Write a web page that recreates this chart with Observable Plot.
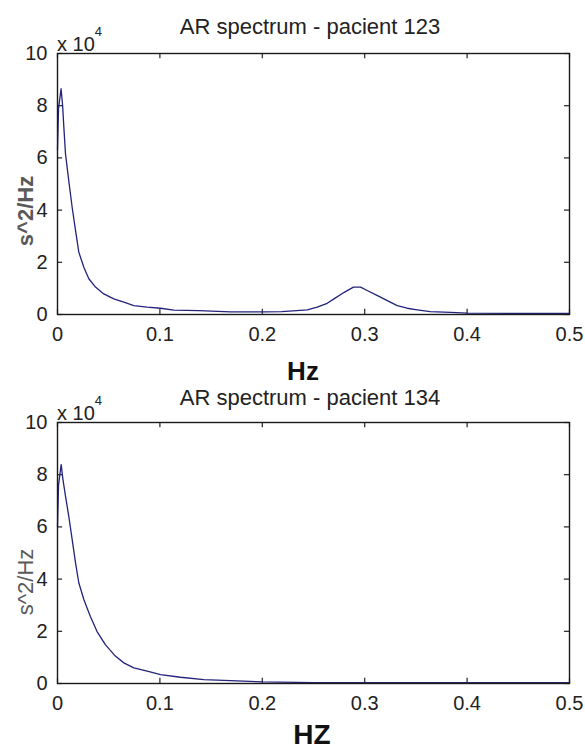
<!DOCTYPE html>
<html>
<head>
<meta charset="utf-8">
<script src="https://cdn.jsdelivr.net/npm/d3@7"></script>
<script src="https://cdn.jsdelivr.net/npm/@observablehq/plot@0.6"></script>
<style>
  body { margin: 0; background: #fff; }
  #wrap { position: relative; width: 585px; height: 752px; font-family: "Liberation Sans", Arial, sans-serif; color: #222; overflow: hidden; }
  .panel { position: absolute; left: 0; width: 585px; height: 369px; }
  .txt { position: absolute; white-space: nowrap; line-height: 0.85; }
  .title { font-size: 22px; transform: translateX(-50%); }
  .mult { font-size: 20px; line-height: 1; }
  .mult span { font-size: 13px; vertical-align: 15px; }
  .xlab { font-weight: bold; transform: translateX(-50%); color: #111; }
  .ylab { font-size: 22px; line-height: 1; color: #5a5a5a; transform: translate(-50%, -50%) rotate(-90deg); }
</style>
</head>
<body>
<div id="wrap"></div>
<script>
// ---- data (PSD values in units of 10^4 s^2/Hz) ----
const titles = ["AR spectrum - pacient 123", "AR spectrum - pacient 134"];
const xLabels = ["Hz", "HZ"];
const yLabel = "s^2/Hz";
const multiplier = ["x 10", "4"];

const freq123 = [0, 0.001, 0.0035, 0.005, 0.0062, 0.0078, 0.011, 0.0143, 0.0176, 0.0208, 0.0257, 0.0306, 0.0371, 0.0452, 0.055, 0.0648, 0.0745, 0.0876, 0.1006, 0.1136, 0.138, 0.169, 0.2, 0.219, 0.244, 0.2536, 0.2634, 0.27, 0.28, 0.289, 0.296, 0.3024, 0.312, 0.3216, 0.3317, 0.3415, 0.3513, 0.364, 0.384, 0.4, 0.45, 0.5];
const psd123  = [6.3, 7.9, 8.65, 8.0, 7.18, 6.16, 5.13, 4.11, 3.22, 2.39, 1.81, 1.37, 1.05, 0.79, 0.6, 0.47, 0.34, 0.28, 0.24, 0.17, 0.15, 0.1, 0.1, 0.11, 0.18, 0.28, 0.43, 0.6, 0.85, 1.05, 1.05, 0.92, 0.73, 0.54, 0.34, 0.24, 0.18, 0.11, 0.08, 0.05, 0.04, 0.04];

const freq134 = [0, 0.001, 0.0036, 0.0052, 0.0078, 0.011, 0.0143, 0.0176, 0.0208, 0.0257, 0.032, 0.0385, 0.0467, 0.0565, 0.0648, 0.0745, 0.0876, 0.1006, 0.12, 0.143, 0.169, 0.2, 0.25, 0.3, 0.4, 0.5];
const psd134  = [6.0, 7.6, 8.39, 7.85, 7.18, 6.41, 5.52, 4.62, 3.86, 3.22, 2.58, 2.0, 1.49, 1.05, 0.79, 0.6, 0.47, 0.34, 0.24, 0.15, 0.11, 0.06, 0.03, 0.03, 0.03, 0.03];

const xTicks = [0, 0.1, 0.2, 0.3, 0.4, 0.5];
const yTicks = [0, 2, 4, 6, 8, 10];

const lineColor = "#23237c";

function panel(freq, psd) {
  const data = freq.map((f, i) => ({f, p: psd[i]}));
  return Plot.plot({
    width: 585,
    height: 369,
    marginLeft: 57,
    marginRight: 16,
    marginTop: 53,
    marginBottom: 55,
    style: {fontFamily: "Liberation Sans, Arial, sans-serif", fontSize: "20px", color: "#222", background: "transparent", overflow: "visible"},
    x: {domain: [0, 0.5]},
    y: {domain: [0, 10]},
    marks: [
      Plot.axisX(xTicks, {tickSize: 0, tickPadding: 12, label: null, fontSize: 20, tickFormat: d => String(d)}),
      Plot.axisY(yTicks, {tickSize: 0, tickPadding: 10, label: null, fontSize: 20, tickFormat: d => String(d)}),
      Plot.ruleX(xTicks, {x: d => d, y1: 0, y2: 0.2, stroke: "#222", strokeWidth: 1.2}),
      Plot.ruleX(xTicks, {x: d => d, y1: 10, y2: 9.8, stroke: "#222", strokeWidth: 1.2}),
      Plot.ruleY(yTicks, {y: d => d, x1: 0, x2: 0.005, stroke: "#222", strokeWidth: 1.2}),
      Plot.ruleY(yTicks, {y: d => d, x1: 0.5, x2: 0.495, stroke: "#222", strokeWidth: 1.2}),
      Plot.line(data, {x: "f", y: "p", stroke: lineColor, strokeWidth: 1.3}),
      Plot.frame({stroke: "#1a1a1a", strokeWidth: 1.4})
    ]
  });
}

const wrap = document.getElementById("wrap");
const series = [[freq123, psd123], [freq134, psd134]];
const offsets = [0, 369];
const titleBase = [35, 406];
const xLabelPos = [{x: 303, base: 380, size: 26}, {x: 312, base: 745, size: 28}];
const yLabelPos = [{y: 211, weight: "bold"}, {y: 582, weight: "normal"}];
const asc = 0.7715; // baseline position inside a line-height 0.85 box (Liberation Sans)

series.forEach(([f, p], i) => {
  const div = document.createElement("div");
  div.className = "panel";
  div.style.top = offsets[i] + "px";
  div.appendChild(panel(f, p));
  wrap.appendChild(div);

  const t = document.createElement("div");
  t.className = "txt title";
  t.style.left = "310px";
  t.style.top = (titleBase[i] - asc * 22) + "px";
  t.textContent = titles[i];
  wrap.appendChild(t);

  const m = document.createElement("div");
  m.className = "txt mult";
  m.style.left = "57px";
  m.style.top = (offsets[i] + 25) + "px";
  m.innerHTML = multiplier[0] + "<span>" + multiplier[1] + "</span>";
  wrap.appendChild(m);

  const xl = document.createElement("div");
  xl.className = "txt xlab";
  xl.style.left = xLabelPos[i].x + "px";
  xl.style.top = (xLabelPos[i].base - asc * xLabelPos[i].size) + "px";
  xl.style.fontSize = xLabelPos[i].size + "px";
  xl.textContent = xLabels[i];
  wrap.appendChild(xl);

  const yl = document.createElement("div");
  yl.className = "txt ylab";
  yl.style.left = "26px";
  yl.style.top = yLabelPos[i].y + "px";
  yl.style.fontWeight = yLabelPos[i].weight;
  yl.textContent = yLabel;
  wrap.appendChild(yl);
});
</script>
</body>
</html>
